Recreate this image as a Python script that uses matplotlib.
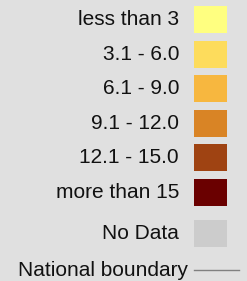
import matplotlib
matplotlib.use("Agg")
import matplotlib.pyplot as plt
from matplotlib.patches import Rectangle

labels = ["less than 3", "3.1 - 6.0", "6.1 - 9.0", "9.1 - 12.0",
          "12.1 - 15.0", "more than 15", "No Data"]
colors = ["#ffff80", "#fddc5c", "#f7b73f", "#d98425", "#9f4312", "#6a0000", "#cccccc"]
line_label = "National boundary"
line_color = "#808080"

W, H = 247, 281
fig = plt.figure(figsize=(W / 100, H / 100), dpi=100)
fig.patch.set_facecolor("#e0e0e0")
ax = fig.add_axes([0, 0, 1, 1])
ax.set_xlim(0, W)
ax.set_ylim(H, 0)
ax.axis("off")

font = dict(family=["Liberation Sans", "DejaVu Sans"], fontsize=15, color="#111111")
box_x, box_w, box_h = 194, 33, 27
text_x = 179
for i, (lab, col) in enumerate(zip(labels, colors)):
    cy = 19.5 + i * 34.6 + (6.5 if i == 6 else 0)
    ax.add_patch(Rectangle((box_x, cy - box_h / 2), box_w, box_h, facecolor=col, edgecolor="none"))
    ax.text(text_x, cy, lab, ha="right", va="center", **font)

ly = 270
ax.plot([194, 239], [ly, ly], color=line_color, lw=1)
ax.text(188, ly, line_label, ha="right", va="center", **font)

fig.savefig("out.png", dpi=100, facecolor=fig.get_facecolor())
